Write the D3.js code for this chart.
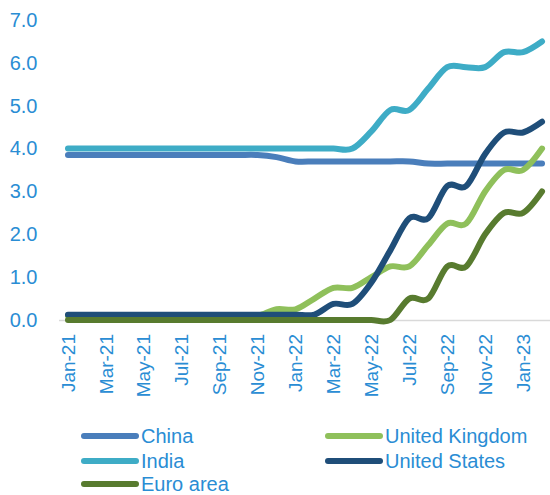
<!DOCTYPE html>
<html>
<head>
<meta charset="utf-8">
<script src="https://cdn.jsdelivr.net/npm/d3@7"></script>
<style>
  body { margin: 0; background: #fff; }
  svg text { font-family: "Liberation Sans", Arial, sans-serif; fill: #2a8dd4; }
</style>
</head>
<body>
<svg id="chart" width="550" height="495"></svg>
<script>
// monthly policy rates, end of month
var months = ["Jan-21","Feb-21","Mar-21","Apr-21","May-21","Jun-21","Jul-21","Aug-21","Sep-21","Oct-21","Nov-21","Dec-21",
              "Jan-22","Feb-22","Mar-22","Apr-22","May-22","Jun-22","Jul-22","Aug-22","Sep-22","Oct-22","Nov-22","Dec-22",
              "Jan-23","Feb-23"];
var china = [3.85,3.85,3.85,3.85,3.85,3.85,3.85,3.85,3.85,3.85,3.85,3.80,
             3.70,3.70,3.70,3.70,3.70,3.70,3.70,3.65,3.65,3.65,3.65,3.65,3.65,3.65];
var uk = [0.10,0.10,0.10,0.10,0.10,0.10,0.10,0.10,0.10,0.10,0.10,0.25,
          0.25,0.50,0.75,0.75,1.00,1.25,1.25,1.75,2.25,2.25,3.00,3.50,3.50,4.00];
var india = [4.00,4.00,4.00,4.00,4.00,4.00,4.00,4.00,4.00,4.00,4.00,4.00,
             4.00,4.00,4.00,4.00,4.40,4.90,4.90,5.40,5.90,5.90,5.90,6.25,6.25,6.50];
var us = [0.125,0.125,0.125,0.125,0.125,0.125,0.125,0.125,0.125,0.125,0.125,0.125,
          0.125,0.125,0.375,0.375,0.875,1.625,2.375,2.375,3.125,3.125,3.875,4.375,4.375,4.625];
var euro = [0,0,0,0,0,0,0,0,0,0,0,0,
            0,0,0,0,0,0,0.50,0.50,1.25,1.25,2.00,2.50,2.50,3.00];
var yTicks = [0,1,2,3,4,5,6,7];

// draw order follows the legend (row by row)
var series = [
  {name: "China", values: china, color: "#4a7ebb"},
  {name: "United Kingdom", values: uk, color: "#8fc05b"},
  {name: "India", values: india, color: "#3eacc6"},
  {name: "United States", values: us, color: "#1f4e79"},
  {name: "Euro area", values: euro, color: "#587b2f"}
];

var svg = d3.select("#chart");

var x = d3.scaleBand()
  .domain(months)
  .range([58.5, 551.5]);

var y = d3.scaleLinear()
  .domain([0, 7])
  .range([320, 20]);

// y axis
var yAxis = svg.append("g")
  .attr("transform", "translate(58.5,0)")
  .call(d3.axisLeft(y).tickValues(yTicks).tickFormat(d3.format(".1f")).tickSize(0).tickPadding(21));
yAxis.select(".domain").remove();
yAxis.selectAll("text")
  .style("font-size", "20px")
  .attr("fill", "#2a8dd4");

// x axis
var xAxis = svg.append("g")
  .attr("transform", "translate(0,320)")
  .call(d3.axisBottom(x)
    .tickValues(months.filter(function(d, i) { return i % 2 == 0; }))
    .tickSize(0)
    .tickSizeOuter(0));
xAxis.select(".domain").attr("stroke", "#d9d9d9").attr("stroke-width", 1.5);
xAxis.selectAll("text")
  .style("font-size", "19px")
  .attr("fill", "#2a8dd4")
  .attr("text-anchor", "end")
  .attr("transform", "rotate(-90)")
  .attr("x", -14)
  .attr("y", 0)
  .attr("dy", "0.35em");

// lines
var line = d3.line()
  .x(function(d, i) { return x(months[i]) + x.bandwidth() / 2; })
  .y(function(d) { return y(d); })
  .curve(d3.curveCatmullRom.alpha(0));

svg.append("g").selectAll("path")
  .data(series)
  .enter().append("path")
  .attr("d", function(d) { return line(d.values); })
  .attr("fill", "none")
  .attr("stroke", function(d) { return d.color; })
  .attr("stroke-width", 6)
  .attr("stroke-linecap", "round")
  .attr("stroke-linejoin", "round");

// legend
var legendPos = {
  "China": [84, 436], "United Kingdom": [328, 436],
  "India": [84, 461], "United States": [328, 461],
  "Euro area": [84, 484]
};
var legend = svg.append("g").selectAll("g")
  .data(series)
  .enter().append("g")
  .attr("transform", function(d) { return "translate(" + legendPos[d.name][0] + "," + legendPos[d.name][1] + ")"; });
legend.append("line")
  .attr("x1", 0).attr("x2", 52)
  .attr("stroke", function(d) { return d.color; })
  .attr("stroke-width", 6)
  .attr("stroke-linecap", "round");
legend.append("text")
  .attr("x", 57)
  .attr("dy", "0.36em")
  .style("font-size", "20px")
  .text(function(d) { return d.name; });
</script>
</body>
</html>
